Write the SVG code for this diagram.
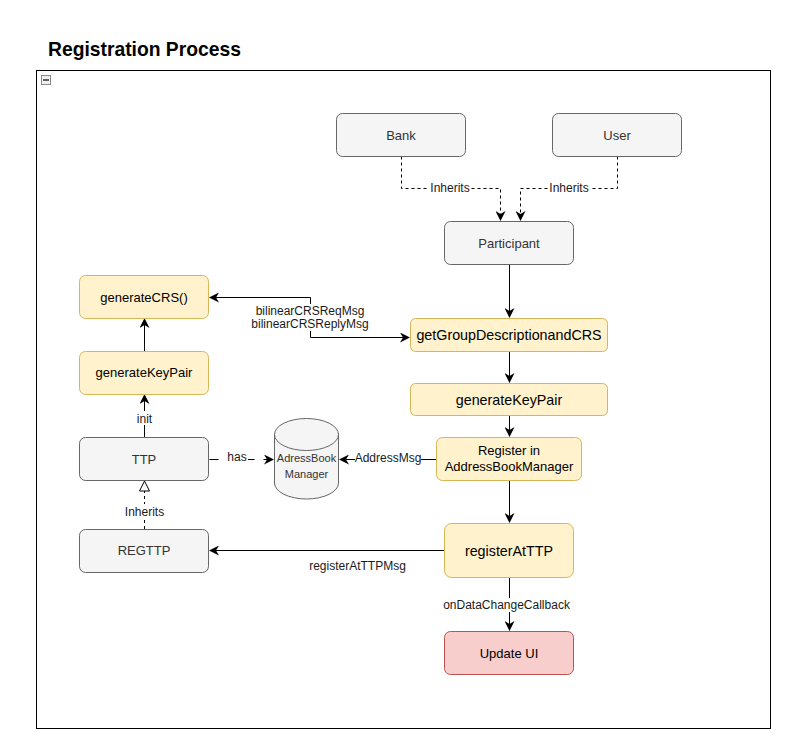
<svg xmlns="http://www.w3.org/2000/svg" width="797" height="749" viewBox="0 0 797 749">
<style>
  text { font-family: "Liberation Sans", Arial, sans-serif; }
  .gray { fill: #f5f5f5; stroke: #666666; stroke-width: 1; }
  .yel { fill: #fff2cc; stroke: #d6b656; stroke-width: 1; }
  .red { fill: #f8cecc; stroke: #b85450; stroke-width: 1; }
  .lbl { font-size: 13px; fill: #333333; text-anchor: middle; }
  .lblk { font-size: 13px; fill: #000000; text-anchor: middle; }
  .big { font-size: 14.3px; fill: #000000; text-anchor: middle; }
  .edge { fill: none; stroke: #000000; stroke-width: 1; }
  .dash { stroke-dasharray: 3 3; }
  .elbl { font-size: 12px; fill: #1a1a1a; text-anchor: middle; }
  .bg { fill: #ffffff; }
</style>
<defs>
  <marker id="arr" viewBox="0 0 10 10" refX="9" refY="5" markerWidth="10" markerHeight="10" markerUnits="userSpaceOnUse" orient="auto">
    <path d="M0,0 L10,5 L0,10 L3,5 Z" fill="#000000"/>
  </marker>
  <marker id="arrs" viewBox="0 0 10 10" refX="1" refY="5" markerWidth="10" markerHeight="10" markerUnits="userSpaceOnUse" orient="auto">
    <path d="M10,0 L0,5 L10,10 L7,5 Z" fill="#000000"/>
  </marker>
  <marker id="tri" viewBox="0 0 12 12" refX="11" refY="6" markerWidth="12" markerHeight="12" markerUnits="userSpaceOnUse" orient="auto">
    <path d="M1,1 L11,6 L1,11 Z" fill="#ffffff" stroke="#000000" stroke-width="1"/>
  </marker>
</defs>

<rect x="0" y="0" width="797" height="749" fill="#ffffff"/>

<g id="title">
  <text x="48" y="56" font-size="19.3" font-weight="bold" fill="#000000">Registration Process</text>
</g>

<g id="container">
  <rect x="36.5" y="70.5" width="734" height="658" fill="none" stroke="#000000" stroke-width="1"/>
  <rect x="41.5" y="75.5" width="9" height="9" fill="#f0f0f0" stroke="#8a8a8a" stroke-width="1"/>
  <line x1="43" y1="80" x2="49" y2="80" stroke="#333333" stroke-width="1.5"/>
</g>

<g id="connectors">
  <!-- Bank -> Participant -->
  <path class="edge dash" d="M401.5,156.5 V188.5 H500.5 V220" marker-end="url(#arr)"/>
  <rect class="bg" x="429" y="181" width="42" height="14"/>
  <text class="elbl" x="450" y="192">Inherits</text>
  <!-- User -> Participant -->
  <path class="edge dash" d="M617.5,156.5 V188.5 H520.5 V220" marker-end="url(#arr)"/>
  <rect class="bg" x="548" y="181" width="42" height="14"/>
  <text class="elbl" x="569" y="192">Inherits</text>
  <!-- Participant -> getGroup -->
  <path class="edge" d="M509.5,264.5 V317" marker-end="url(#arr)"/>
  <!-- getGroup -> generateKeyPair -->
  <path class="edge" d="M509.5,351.5 V382" marker-end="url(#arr)"/>
  <!-- generateKeyPair -> Register -->
  <path class="edge" d="M509.5,415.5 V436" marker-end="url(#arr)"/>
  <!-- Register -> registerAtTTP -->
  <path class="edge" d="M509.5,480.5 V522" marker-end="url(#arr)"/>
  <!-- registerAtTTP -> Update UI -->
  <path class="edge" d="M509.5,577.5 V630" marker-end="url(#arr)"/>
  <rect class="bg" x="443" y="598" width="127" height="14"/>
  <text class="elbl" x="506.5" y="609">onDataChangeCallback</text>
  <!-- registerAtTTP -> REGTTP -->
  <path class="edge" d="M444,550.5 H210" marker-end="url(#arr)"/>
  <text class="elbl" x="357.5" y="570">registerAtTTPMsg</text>
  <!-- Register -> AddressBook -->
  <path class="edge" d="M436,459.5 H340" marker-end="url(#arr)"/>
  <rect class="bg" x="355" y="451" width="66" height="14"/>
  <text class="elbl" x="388" y="462">AddressMsg</text>
  <!-- TTP -> AddressBook (has) -->
  <path class="edge" d="M209.5,459.5 H273" stroke-dasharray="9 9" marker-end="url(#arr)"/>
  <rect class="bg" x="222" y="450" width="26" height="14"/>
  <text class="elbl" x="237" y="461">has</text>
  <!-- REGTTP -> TTP inherits -->
  <path class="edge dash" d="M144.5,529 V481" marker-end="url(#tri)"/>
  <rect class="bg" x="122" y="504" width="45" height="14"/>
  <text class="elbl" x="144.5" y="516">Inherits</text>
  <!-- TTP -> generateKeyPair left (init) -->
  <path class="edge" d="M144.5,437 V395" marker-end="url(#arr)"/>
  <rect class="bg" x="134" y="411" width="21" height="14"/>
  <text class="elbl" x="144.5" y="423">init</text>
  <!-- generateKeyPair left -> generateCRS -->
  <path class="edge" d="M144.5,351 V319" marker-end="url(#arr)"/>
  <!-- getGroup <-> generateCRS -->
  <path class="edge" d="M210,297.5 H310.5 V337.5 H409" marker-start="url(#arrs)" marker-end="url(#arr)"/>
  <rect class="bg" x="252" y="304" width="117" height="27"/>
  <text class="elbl" x="310" y="315">bilinearCRSReqMsg</text>
  <text class="elbl" x="310" y="328">bilinearCRSReplyMsg</text>
</g>

<g id="bank">
  <rect class="gray" x="336.5" y="113.5" width="129" height="43" rx="6"/>
  <text class="lbl" x="401" y="140">Bank</text>
</g>
<g id="user">
  <rect class="gray" x="552.5" y="113.5" width="129" height="43" rx="6"/>
  <text class="lbl" x="617" y="140">User</text>
</g>
<g id="participant">
  <rect class="gray" x="444.5" y="221.5" width="129" height="43" rx="6"/>
  <text class="lbl" x="509" y="248">Participant</text>
</g>
<g id="getGroupDescriptionandCRS">
  <rect class="yel" x="410.5" y="318.5" width="197" height="33" rx="5"/>
  <text class="big" x="509" y="340">getGroupDescriptionandCRS</text>
</g>
<g id="generateKeyPair-right">
  <rect class="yel" x="410.5" y="383.5" width="197" height="32" rx="5"/>
  <text class="big" x="509" y="405">generateKeyPair</text>
</g>
<g id="register-in-abm">
  <rect class="yel" x="436.5" y="437.5" width="145" height="43" rx="6"/>
  <text class="lblk" x="509" y="455">Register in</text>
  <text class="lblk" x="509" y="471">AddressBookManager</text>
</g>
<g id="registerAtTTP">
  <rect class="yel" x="444.5" y="523.5" width="129" height="54" rx="7"/>
  <text class="big" x="509" y="556">registerAtTTP</text>
</g>
<g id="update-ui">
  <rect class="red" x="444.5" y="631.5" width="129" height="43" rx="6"/>
  <text class="lblk" x="509" y="658">Update UI</text>
</g>
<g id="generateCRS">
  <rect class="yel" x="79.5" y="275.5" width="129" height="43" rx="6"/>
  <text class="lblk" x="144" y="302">generateCRS()</text>
</g>
<g id="generateKeyPair-left">
  <rect class="yel" x="79.5" y="351.5" width="129" height="43" rx="6"/>
  <text class="lblk" x="144" y="377">generateKeyPair</text>
</g>
<g id="ttp">
  <rect class="gray" x="79.5" y="437.5" width="129" height="43" rx="6"/>
  <text class="lbl" x="144" y="464">TTP</text>
</g>
<g id="regttp">
  <rect class="gray" x="79.5" y="529.5" width="129" height="43" rx="6"/>
  <text class="lbl" x="144" y="555">REGTTP</text>
</g>
<g id="addressbook-manager">
  <path class="gray" d="M274.5,434.5 A32,16 0 0 1 338.5,434.5 V483 A32,16 0 0 1 274.5,483 Z"/>
  <path d="M274.5,434.5 A32,16 0 0 0 338.5,434.5" fill="none" stroke="#666666" stroke-width="1"/>
  <text x="306.5" y="462" font-size="11" fill="#333333" text-anchor="middle">AdressBook</text>
  <text x="306.5" y="478" font-size="11" fill="#333333" text-anchor="middle">Manager</text>
</g>
</svg>
